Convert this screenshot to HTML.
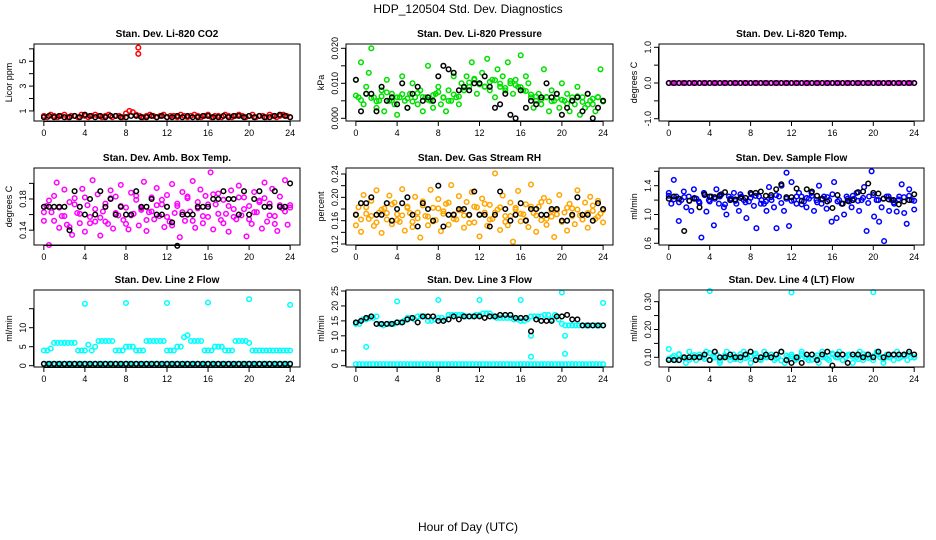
<!DOCTYPE html>
<html><head><meta charset="utf-8"><style>
body{margin:0;background:#fff;}
svg{display:block;font-family:"Liberation Sans",sans-serif;}
</style></head><body>
<svg id="chart" width="936" height="540" viewBox="0 0 936 540" xmlns="http://www.w3.org/2000/svg">
<text x="468" y="13" text-anchor="middle" font-size="12">HDP_120504  Std. Dev. Diagnostics</text>
<text x="468" y="531" text-anchor="middle" font-size="12">Hour of Day (UTC)</text>
</svg>
<script>
// ---- data ----
const xTicks = [0,4,8,12,16,20,24];
const p1Red = [0.6,0.5,0.7,0.6,0.5,0.6,0.7,0.5,0.6,0.6,0.5,0.7,0.6,0.5,0.6,0.7,0.6,0.5,0.6,0.7,0.5,0.6,0.6,0.5,0.8,1.0,0.9,0.7,0.6,0.5,0.6,0.7,0.6,0.5,0.6,0.7,0.5,0.6,0.6,0.5,0.7,0.6,0.5,0.6,0.7,0.6,0.5,0.6,0.7,0.5,0.6,0.6,0.5,0.7,0.6,0.5,0.6,0.7,0.6,0.5,0.6,0.7,0.5,0.6,0.6,0.5,0.7,0.6,0.5,0.6,0.7,0.6,0.5];
const p1OutHours = [9.2,9.2];
const p1OutVals = [5.6,6.1];
const p1Black = [0.5,0.6,0.5,0.6,0.5,0.5,0.6,0.5,0.7,0.6,0.5,0.6,0.5,0.6,0.6,0.5,0.5,0.6,0.6,0.5,0.5,0.6,0.5,0.6,0.5,0.5,0.6,0.5,0.6,0.5,0.5,0.6,0.6,0.5,0.5,0.6,0.5,0.6,0.6,0.5,0.6,0.5,0.6,0.5,0.5,0.6,0.7,0.6,0.5];
const p2Green = [0.011,0.006,0.016,0.004,0.009,0.013,0.020,0.006,0.003,0.005,0.008,0.002,0.011,0.005,0.007,0.004,0.001,0.006,0.012,0.005,0.003,0.007,0.010,0.006,0.004,0.008,0.002,0.006,0.015,0.005,0.003,0.007,0.009,0.004,0.006,0.002,0.008,0.005,0.012,0.006,0.004,0.010,0.008,0.012,0.009,0.016,0.011,0.007,0.010,0.013,0.009,0.017,0.008,0.011,0.006,0.014,0.009,0.012,0.008,0.016,0.010,0.007,0.011,0.009,0.018,0.008,0.012,0.010,0.006,0.003,0.005,0.007,0.004,0.014,0.006,0.002,0.008,0.005,0.007,0.003,0.010,0.005,0.007,0.002,0.006,0.004,0.009,0.001,0.006,0.003,0.007,0.005,0.004,0.002,0.006,0.014,0.005];
const p2Green2 = [0.0065,0.0052,0.0071,0.0058,0.0049,0.0063,0.0074,0.0051,0.0060,0.0069,0.0057,0.0048,0.0072,0.0061,0.0053,0.0066,0.0075,0.0059,0.0050,0.0068,0.0062,0.0088,0.0102,0.0113,0.0097,0.0091,0.0104,0.0109,0.0099,0.0087,0.0107,0.0095,0.0089,0.0078,0.0068,0.0062,0.0054,0.0061,0.0049,0.0058,0.0053,0.0042,0.0051,0.0063,0.0047,0.0039,0.0056,0.0061,0.0048];
const p2Black = [0.011,0.002,0.007,0.007,0.002,0.009,0.005,0.006,0.004,0.010,0.003,0.007,0.009,0.005,0.006,0.005,0.012,0.015,0.014,0.013,0.008,0.009,0.008,0.010,0.010,0.012,0.009,0.003,0.004,0.007,0.001,0.000,0.008,0.003,0.005,0.004,0.006,0.010,0.006,0.007,0.001,0.003,0.005,0.006,0.002,0.007,0.000,0.003,0.005];
const p3Magenta = [0,0,0,0,0,0,0,0,0,0,0,0,0,0,0,0,0,0,0,0,0,0,0,0,0,0,0,0,0,0,0,0,0,0,0,0,0,0,0,0,0,0,0,0,0,0,0,0,0,0,0,0,0,0,0,0,0,0,0,0,0,0,0,0,0,0,0,0,0,0,0,0,0];
const p3Black = [0,0,0,0,0,0,0,0,0,0,0,0,0,0,0,0,0,0,0,0,0,0,0,0,0,0,0,0,0,0,0,0,0,0,0,0,0,0,0,0,0,0,0,0,0,0,0,0,0];
const p4Magenta = [0.152,0.171,0.121,0.163,0.184,0.201,0.143,0.158,0.192,0.147,0.176,0.134,0.181,0.162,0.149,0.193,0.138,0.172,0.157,0.204,0.151,0.186,0.133,0.164,0.174,0.148,0.191,0.142,0.183,0.159,0.198,0.153,0.169,0.141,0.188,0.161,0.179,0.146,0.168,0.202,0.139,0.163,0.182,0.154,0.194,0.158,0.173,0.144,0.185,0.151,0.199,0.162,0.171,0.131,0.189,0.152,0.181,0.164,0.203,0.143,0.176,0.192,0.149,0.184,0.157,0.214,0.141,0.173,0.187,0.153,0.179,0.161,0.138,0.191,0.167,0.154,0.197,0.159,0.182,0.132,0.171,0.148,0.189,0.163,0.178,0.142,0.201,0.151,0.174,0.193,0.158,0.139,0.183,0.168,0.204,0.147,0.172];
const p4Magenta2 = [0.163,0.178,0.152,0.169,0.158,0.144,0.173,0.161,0.182,0.149,0.167,0.156,0.151,0.181,0.162,0.171,0.148,0.159,0.184,0.166,0.153,0.164,0.172,0.179,0.157,0.146,0.174,0.163,0.183,0.152,0.168,0.158,0.173,0.186,0.161,0.149,0.171,0.157,0.182,0.167,0.154,0.163,0.176,0.181,0.159,0.148,0.172,0.164,0.169];
const p4Black = [0.17,0.17,0.17,0.17,0.17,0.14,0.19,0.17,0.16,0.18,0.16,0.19,0.17,0.18,0.16,0.17,0.16,0.16,0.19,0.17,0.17,0.18,0.16,0.16,0.17,0.15,0.12,0.16,0.16,0.16,0.17,0.17,0.17,0.18,0.18,0.19,0.18,0.18,0.16,0.19,0.16,0.18,0.19,0.17,0.17,0.19,0.17,0.17,0.20];
const p5Orange = [0.152,0.183,0.141,0.204,0.172,0.163,0.194,0.151,0.212,0.174,0.139,0.181,0.162,0.203,0.154,0.191,0.171,0.158,0.214,0.143,0.184,0.173,0.149,0.201,0.164,0.131,0.193,0.168,0.152,0.213,0.182,0.161,0.197,0.142,0.176,0.189,0.153,0.221,0.171,0.162,0.202,0.178,0.148,0.192,0.169,0.209,0.157,0.183,0.133,0.198,0.174,0.151,0.187,0.163,0.241,0.179,0.144,0.203,0.168,0.152,0.191,0.124,0.182,0.211,0.159,0.171,0.188,0.149,0.222,0.173,0.141,0.184,0.161,0.199,0.153,0.193,0.167,0.132,0.178,0.204,0.158,0.174,0.143,0.189,0.181,0.154,0.212,0.169,0.162,0.191,0.148,0.201,0.177,0.163,0.194,0.172,0.157];
const p5Orange2 = [0.171,0.162,0.183,0.168,0.157,0.179,0.173,0.188,0.161,0.169,0.182,0.158,0.174,0.186,0.167,0.159,0.181,0.172,0.191,0.163,0.178,0.169,0.156,0.184,0.171,0.189,0.162,0.174,0.183,0.158,0.168,0.179,0.172,0.161,0.184,0.169,0.192,0.163,0.177,0.171,0.158,0.182,0.168,0.179,0.162,0.173,0.186,0.167,0.178];
const p5Black = [0.17,0.19,0.19,0.20,0.17,0.17,0.19,0.16,0.18,0.19,0.20,0.17,0.15,0.19,0.18,0.16,0.22,0.15,0.17,0.17,0.18,0.18,0.17,0.21,0.17,0.17,0.15,0.17,0.21,0.18,0.16,0.17,0.19,0.16,0.18,0.18,0.17,0.17,0.18,0.18,0.16,0.16,0.17,0.20,0.17,0.17,0.16,0.19,0.18];
const p6Blue = [1.30,1.15,1.48,1.25,0.91,1.20,1.32,1.10,1.25,1.05,1.35,1.22,1.18,0.68,1.30,1.04,1.20,1.25,0.85,1.35,1.15,1.28,1.10,1.00,1.25,1.22,1.30,1.15,1.05,1.25,1.20,0.95,1.18,1.28,1.12,0.81,1.25,1.20,1.15,1.05,1.38,1.20,1.10,0.81,1.25,1.40,1.05,1.58,0.84,1.45,1.20,1.15,1.30,1.25,1.18,1.10,1.22,1.30,1.05,1.20,1.40,1.15,1.25,1.08,1.20,0.90,1.45,0.95,1.20,1.15,1.00,1.25,1.18,1.10,1.22,1.30,1.05,1.20,1.38,0.77,1.25,1.60,0.97,1.20,0.90,1.10,0.63,1.25,1.05,1.20,1.15,1.04,1.25,1.42,1.02,0.87,1.35,1.20,1.07];
const p6Blue2 = [1.26,1.21,1.17,1.24,1.19,1.23,1.16,1.27,1.18,1.22,1.25,1.14,1.22,1.19,1.28,1.17,1.23,1.26,1.15,1.18,1.24,1.27,1.16,1.22,1.19,1.25,1.14,1.23,1.26,1.17,1.21,1.24,1.28,1.18,1.15,1.22,1.26,1.19,1.23,1.16,1.27,1.20,1.22,1.25,1.17,1.21,1.24,1.26,1.19];
const p6Black = [1.22,1.25,1.22,0.77,1.19,1.22,1.10,1.28,1.25,1.24,1.27,1.31,1.20,1.21,1.23,1.23,1.30,1.30,1.32,1.26,1.27,1.35,1.42,1.24,1.24,1.36,1.19,1.35,1.32,1.26,1.22,1.18,1.09,1.27,1.15,1.19,1.20,1.31,1.32,1.43,1.30,1.29,1.22,1.21,1.20,1.14,1.18,1.20,1.28];
const p7Cyan = [4,4,4.5,6,6,6,6,6,6,6,4,4,4,5.5,4,5,6.5,6.5,6.5,6.5,6.5,4,4,4,5,5,5,4,4,4,6.5,6.5,6.5,6.5,6.5,6.5,4,4,4,5,5,7.5,8,6.5,6.5,6.5,6.5,4,4,4,5,5,5,4,4,4,6.5,6.5,6.5,6.5,6,4,4,4,4,4,4,4,4,4,4,4,4];
const p7Cyan2 = [0.5,0.5,0.5,0.5,0.5,0.5,0.5,0.5,0.5,0.5,0.5,0.5,0.5,0.5,0.5,0.5,0.5,0.5,0.5,0.5,0.5,0.5,0.5,0.5,0.5,0.5,0.5,0.5,0.5,0.5,0.5,0.5,0.5,0.5,0.5,0.5,0.5,0.5,0.5,0.5,0.5,0.5,0.5,0.5,0.5,0.5,0.5,0.5,0.5,0.5,0.5,0.5,0.5,0.5,0.5,0.5,0.5,0.5,0.5,0.5,0.5,0.5,0.5,0.5,0.5,0.5,0.5,0.5,0.5,0.5,0.5,0.5,0.5];
const p7OutHours = [4,8,12,16,20,24];
const p7OutVals = [16.3,16.5,16.5,16.6,17.5,16.0];
const p7Black = [0.5,0.5,0.5,0.5,0.5,0.5,0.5,0.5,0.5,0.5,0.5,0.5,0.5,0.5,0.5,0.5,0.5,0.5,0.5,0.5,0.5,0.5,0.5,0.5,0.5,0.5,0.5,0.5,0.5,0.5,0.5,0.5,0.5,0.5,0.5,0.5,0.5,0.5,0.5,0.5,0.5,0.5,0.5,0.5,0.5,0.5,0.5,0.5,0.5];
const p8Cyan = [14,14,15.5,15.5,16,16,16.5,14,13.5,14,14,14,14.5,14.5,15,16,16,15.5,16.5,16.5,16.5,15,15,15.5,16,16,15.5,17,17,17,17,17,16.5,16.5,16.5,17,17,17.5,17.5,17.5,16.5,16,16,16,16,16,15.5,15.5,15,15,15.5,16.5,16.5,16.5,16.5,17,17,15.5,17,15.5,14,13.5,13.5,13.5,13.5,13.5,13.5,13.5,13.5,13.5,13.5,13.5,13.5];
const p8Cyan2 = [0.5,0.5,0.5,0.5,0.5,0.5,0.5,0.5,0.5,0.5,0.5,0.5,0.5,0.5,0.5,0.5,0.5,0.5,0.5,0.5,0.5,0.5,0.5,0.5,0.5,0.5,0.5,0.5,0.5,0.5,0.5,0.5,0.5,0.5,0.5,0.5,0.5,0.5,0.5,0.5,0.5,0.5,0.5,0.5,0.5,0.5,0.5,0.5,0.5,0.5,0.5,0.5,0.5,0.5,0.5,0.5,0.5,0.5,0.5,0.5,0.5,0.5,0.5,0.5,0.5,0.5,0.5,0.5,0.5,0.5,0.5,0.5,0.5];
const p8OutHours = [1,4,8,12,16,17,17,20,20.3,20.3,24];
const p8OutVals = [6.3,21.5,22,22,22,10,3,24.5,4,10,21];
const p8Black = [14.5,15,16,16.5,14,14,14,14,14.5,14.5,15.5,16,14.5,16.5,16.5,16.5,15,15,15.5,16.5,15.5,16.5,16.5,16.5,16.5,16,16.5,16.5,17,17,17,16,16,16,11.5,15.5,15,15,15,16.5,16.5,17,15.5,15.5,13.5,13.5,13.5,13.5,13.5];
const p9Cyan = [0.13,0.10,0.09,0.11,0.10,0.08,0.12,0.10,0.09,0.11,0.10,0.12,0.09,0.10,0.11,0.08,0.10,0.12,0.09,0.11,0.10,0.09,0.12,0.10,0.08,0.11,0.10,0.09,0.12,0.10,0.11,0.09,0.10,0.12,0.08,0.10,0.11,0.09,0.10,0.12,0.10,0.09,0.11,0.10,0.08,0.12,0.10,0.09,0.11,0.10,0.12,0.09,0.10,0.11,0.08,0.10,0.12,0.09,0.11,0.10,0.09,0.12,0.10,0.08,0.11,0.10,0.09,0.12,0.10,0.11,0.09,0.10,0.10];
const p9Cyan2 = [0.095,0.105,0.112,0.098,0.091,0.108,0.102,0.094,0.115,0.099,0.088,0.107,0.101,0.093,0.111,0.097,0.104,0.113,0.092,0.100,0.109,0.096,0.089,0.106,0.103,0.094,0.112,0.098,0.091,0.107,0.101,0.095,0.114,0.099,0.090,0.108,0.102,0.093,0.111,0.097,0.104,0.110,0.092,0.100,0.107,0.096,0.105,0.112,0.099];
const p9OutHours = [4,12,20];
const p9OutVals = [0.338,0.333,0.334];
const p9Black = [0.09,0.09,0.09,0.10,0.10,0.10,0.10,0.11,0.09,0.12,0.10,0.10,0.11,0.10,0.10,0.11,0.12,0.09,0.10,0.11,0.10,0.11,0.12,0.09,0.08,0.10,0.08,0.11,0.11,0.09,0.11,0.12,0.07,0.11,0.11,0.08,0.11,0.11,0.10,0.11,0.10,0.12,0.10,0.11,0.11,0.11,0.11,0.12,0.11];

// ---- layout ----
const NS = "http://www.w3.org/2000/svg";
const svg = document.getElementById('chart');
const colX = [34,346,659], colW = [266,267,265];
const rowY = [44,168,290], rowH = 77;

function mk(tag, attrs, parent){
  const e = document.createElementNS(NS, tag);
  for (const k in attrs) e.setAttribute(k, attrs[k]);
  (parent||svg).appendChild(e);
  return e;
}
function evenHours(n){ return Array.from({length:n}, (_, i) => i*24/(n-1)); }

const panels = [
 {name:'li820-co2', title:'Stan. Dev. Li-820 CO2', ylab:'Licor ppm', c:0,r:0, ylim:[0.19,6.39], ticks:[1,2,3,4,5,6], labels:[1,3,5], fmt:v=>String(v),
  series:[[null,p1Red,'#ff0000'],[p1OutHours,p1OutVals,'#ff0000'],[null,p1Black,'#000']]},
 {name:'li820-pressure', title:'Stan. Dev. Li-820 Pressure', ylab:'kPa', c:1,r:0, ylim:[-0.00077,0.02123], ticks:[0,0.005,0.01,0.015,0.02], labels:[0,0.01,0.02], fmt:v=>v.toFixed(3),
  series:[[null,p2Green,'#00e000'],[null,p2Green2,'#00e000'],[null,p2Black,'#000']]},
 {name:'li820-temp', title:'Stan. Dev. Li-820 Temp.', ylab:'degrees C', c:2,r:0, ylim:[-1.064,1.092], ticks:[-1,-0.5,0,0.5,1], labels:[-1,0,1], fmt:v=>v.toFixed(1),
  series:[[null,p3Magenta,'#ff00ff'],[null,p3Black,'#000']]},
 {name:'amb-box-temp', title:'Stan. Dev. Amb. Box Temp.', ylab:'degrees C', c:0,r:1, ylim:[0.121,0.2197], ticks:[0.14,0.16,0.18,0.2], labels:[0.14,0.18], fmt:v=>v.toFixed(2),
  series:[[null,p4Magenta,'#ff00ff'],[null,p4Magenta2,'#ff00ff'],[null,p4Black,'#000']]},
 {name:'gas-stream-rh', title:'Stan. Dev. Gas Stream RH', ylab:'percent', c:1,r:1, ylim:[0.1183,0.2503], ticks:[0.12,0.14,0.16,0.18,0.2,0.22,0.24], labels:[0.12,0.16,0.2,0.24], fmt:v=>v.toFixed(2),
  series:[[null,p5Orange,'#ffa500'],[null,p5Orange2,'#ffa500'],[null,p5Black,'#000']]},
 {name:'sample-flow', title:'Stan. Dev. Sample Flow', ylab:'ml/min', c:2,r:1, ylim:[0.576,1.646], ticks:[0.6,0.8,1.0,1.2,1.4,1.6], labels:[0.6,1.0,1.4], fmt:v=>v.toFixed(1),
  series:[[null,p6Blue,'#0000ff'],[null,p6Blue2,'#0000ff'],[null,p6Black,'#000']]},
 {name:'line2-flow', title:'Stan. Dev. Line 2 Flow', ylab:'ml/min', c:0,r:2, ylim:[-0.34,19.92], ticks:[0,5,10,15], labels:[0,5,10], fmt:v=>String(v),
  series:[[null,p7Cyan,'#00ffff'],[null,p7Cyan2,'#00ffff'],[p7OutHours,p7OutVals,'#00ffff'],[null,p7Black,'#000']]},
 {name:'line3-flow', title:'Stan. Dev. Line 3 Flow', ylab:'ml/min', c:1,r:2, ylim:[-0.43,25.33], ticks:[0,5,10,15,20,25], labels:[0,5,10,15,20,25], fmt:v=>String(v),
  series:[[null,p8Cyan,'#00ffff'],[null,p8Cyan2,'#00ffff'],[p8OutHours,p8OutVals,'#00ffff'],[null,p8Black,'#000']]},
 {name:'line4-flow', title:'Stan. Dev. Line 4 (LT) Flow', ylab:'ml/min', c:2,r:2, ylim:[0.0651,0.342], ticks:[0.1,0.15,0.2,0.25,0.3], labels:[0.1,0.2,0.3], fmt:v=>v.toFixed(2),
  series:[[null,p9Cyan,'#00ffff'],[null,p9Cyan2,'#00ffff'],[p9OutHours,p9OutVals,'#00ffff'],[null,p9Black,'#000']]}
];

panels.forEach(p => {
  const L = colX[p.c], W = colW[p.c], T = rowY[p.r], H = rowH, B = T + H;
  const xs = h => L + (h + 0.96) / 25.92 * W;
  const ys = v => B - (v - p.ylim[0]) / (p.ylim[1] - p.ylim[0]) * H;
  const g = mk('g', {});
  
  
  const t = mk('text', {x: L + W/2, y: T - 7, 'text-anchor':'middle', 'font-size':'10', 'font-weight':'bold'}, g);
  t.textContent = p.title;
  
  
  const pg = mk('g', {fill:'none', 'stroke-width':'1.5'}, g);
  
  
  p.series.forEach(s => {
    const vals = s[1];
    const hrs = s[0] || evenHours(vals.length);
    vals.forEach((v, i) => {
      const c = mk('circle', {cx: xs(hrs[i]).toFixed(1), cy: ys(v).toFixed(1), r: 2.3, stroke: s[2]}, pg);
      
      
    });
  });
  const f = mk('rect', {x:L, y:T, width:W, height:H, fill:'none', stroke:'#000', 'stroke-width':'1'}, g);
  
  
  const xa = mk('g', {stroke:'#000', 'stroke-width':'1'}, g);
  
  
  mk('line', {x1: xs(xTicks[0]), x2: xs(xTicks[xTicks.length-1]), y1: B+0.5, y2: B+0.5}, xa);
  xTicks.forEach(h => {
    mk('line', {x1: xs(h), x2: xs(h), y1: B, y2: B+5}, xa);
    const tl = mk('text', {x: xs(h), y: B+15, 'text-anchor':'middle', 'font-size':'9', stroke:'none', fill:'#000'}, xa);
    tl.textContent = h;
    
    
  });
  const ya = mk('g', {stroke:'#000', 'stroke-width':'1'}, g);
  
  
  mk('line', {x1: L-0.5, x2: L-0.5, y1: ys(p.ticks[0]), y2: ys(p.ticks[p.ticks.length-1])}, ya);
  p.ticks.forEach(v => mk('line', {x1: L-5, x2: L, y1: ys(v), y2: ys(v)}, ya));
  p.labels.forEach(v => {
    const yl = mk('text', {x: 0, y: 0, transform:`translate(${L-8},${ys(v)}) rotate(-90)`, 'text-anchor':'middle', 'font-size':'9', stroke:'none', fill:'#000'}, ya);
    yl.textContent = p.fmt(v);
    
    
  });
  const yt = mk('text', {x:0, y:0, transform:`translate(${L-22},${T+H/2}) rotate(-90)`, 'text-anchor':'middle', 'font-size':'9'}, g);
  yt.textContent = p.ylab;
  
  
});
</script>
</body></html>
